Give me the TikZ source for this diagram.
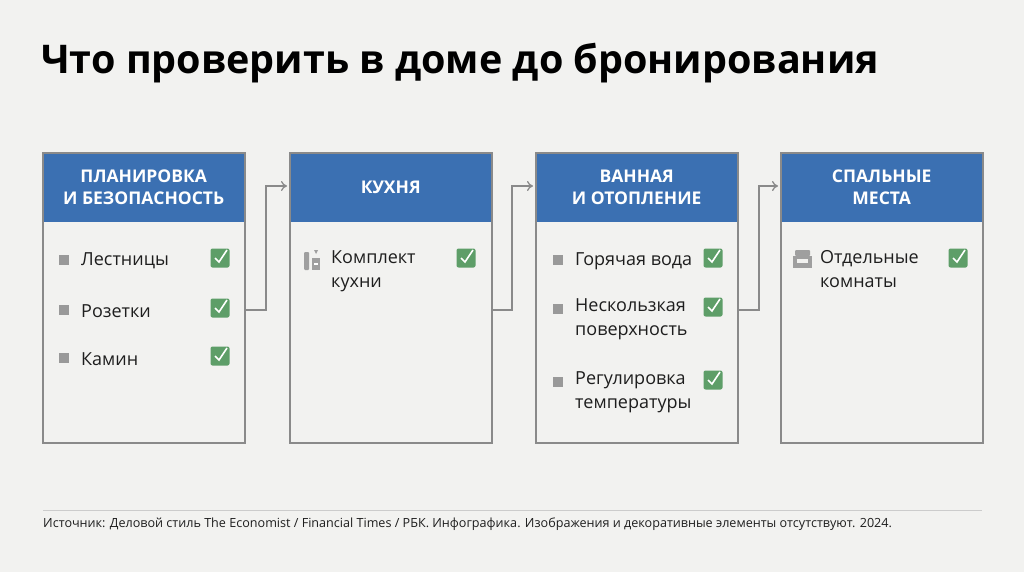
\documentclass[tikz,border=0pt]{standalone}
\usepackage{fontspec}
\setmainfont{Open Sans}
\usetikzlibrary{positioning,arrows.meta}
\definecolor{bgc}{HTML}{F2F2F0}
\definecolor{headc}{HTML}{3B70B2}
\definecolor{okc}{HTML}{5E9E68}
\definecolor{linec}{HTML}{8A8A8A}
\definecolor{txtc}{HTML}{1E1E1E}
\tikzset{
  card/.style={draw=linec, line width=1.2pt, minimum width=201pt, minimum height=289pt, anchor=north west, inner sep=0pt},
  head/.style={fill=headc, minimum width=201pt, minimum height=69pt, anchor=north west, text=white, font=\fontsize{17.5}{22}\selectfont\bfseries, align=center, inner sep=0pt},
  item/.style={anchor=west, text=txtc, font=\fontsize{18}{24}\selectfont, align=left, inner sep=0pt},
  dot/.style={fill=gray!80, minimum size=10pt, inner sep=0pt},
  flow/.style={draw=linec, line width=1.3pt, -{To[length=6pt,width=10pt]}},
}
\newcommand{\okbox}[2]{%
  \node[fill=okc, rounded corners=2pt, minimum size=19pt, inner sep=0pt] (#1) at #2 {};
  \draw[white, line width=1.6pt] ([shift={(-5pt,0pt)}]#1.center) -- ([shift={(-1pt,-4pt)}]#1.center) -- ([shift={(7pt,8pt)}]#1.center);}
\begin{document}
\begin{tikzpicture}[x=1pt, y=-1pt]
\fill[bgc] (0,0) rectangle (1024,572);
\useasboundingbox (0,0) rectangle (1024,572);

% title
\node[anchor=west, text=black, font=\fontsize{39.5}{44}\selectfont\bfseries, inner sep=0pt] (title) at (41,63) {Что проверить в доме до бронирования};

% cards
\foreach \n/\x in {a/43, b/290, c/536, d/781}{
  \node[card] (card\n) at (\x,153) {};
}
\node[head] (heada) at (43,153) {ПЛАНИРОВКА\\И БЕЗОПАСНОСТЬ};
\node[head] (headb) at (290,153) {КУХНЯ};
\node[head] (headc) at (536,153) {ВАННАЯ\\И ОТОПЛЕНИЕ};
\node[head] (headd) at (781,153) {СПАЛЬНЫЕ\\МЕСТА};
\foreach \n in {a,b,c,d}{\draw[linec, line width=1.2pt] (card\n.north west) rectangle (card\n.south east);}

% card 1
\foreach \i/\y/\t in {1/260/Лестницы, 2/310/Розетки, 3/358/Камин}{
  \node[dot] (adot\i) at (64,\y) {};
  \node[item] (aitem\i) at (81,\y+1) {\t};
  \okbox{aok\i}{(220,\y-2)}
}

% card 2
\fill[gray!75, rounded corners=1pt] (304,252) rectangle (309,270);
\fill[gray!75] (312,258) rectangle (320,270);
\fill[gray!75] (314,250) -- (318,250) -- (316,254) -- cycle;
\fill[white] (314,263) rectangle (318,265);
\node[item, anchor=north west] (bitem1) at (331,250) {Комплект\\кухни};
\okbox{bok1}{(466,258)}

% card 3
\node[dot] (cdot1) at (558,260) {};
\node[item] (citem1) at (575,261) {Горячая вода};
\okbox{cok1}{(713,258)}
\node[dot] (cdot2) at (558,309) {};
\node[item, anchor=north west] (citem2) at (575,298) {Нескользкая\\поверхность};
\okbox{cok2}{(713,307)}
\node[dot] (cdot3) at (558,382) {};
\node[item, anchor=north west] (citem3) at (575,371) {Регулировка\\температуры};
\okbox{cok3}{(713,380)}

% card 4
\fill[gray!75] (793,256) rectangle (812,268);
\fill[gray!75, rounded corners=1pt] (795,250) rectangle (810,256);
\fill[bgc] (797,259) rectangle (808,263);
\node[item, anchor=north west] (ditem1) at (820,250) {Отдельные\\комнаты};
\okbox{dok1}{(958,258)}

% connectors
\coordinate (ab) at (266,310);
\coordinate (bc) at (512,310);
\coordinate (cd) at (759,310);
\draw[flow] (carda.east |- ab) -- (ab) |- ([xshift=-3pt]cardb.west |- 0,186);
\draw[flow] (cardb.east |- bc) -- (bc) |- ([xshift=-3pt]cardc.west |- 0,186);
\draw[flow] (cardc.east |- cd) -- (cd) |- ([xshift=-3pt]cardd.west |- 0,186);

% footer
\draw[gray!40, line width=0.8pt] (43,510) -- (982,510);
\node[anchor=west, text=txtc, font=\fontsize{12.6}{14}\selectfont, inner sep=0pt] (src) at (43,524) {Источник: Деловой стиль The Economist / Financial Times / РБК. Инфографика. Изображения и декоративные элементы отсутствуют. 2024.};
\end{tikzpicture}
\end{document}
